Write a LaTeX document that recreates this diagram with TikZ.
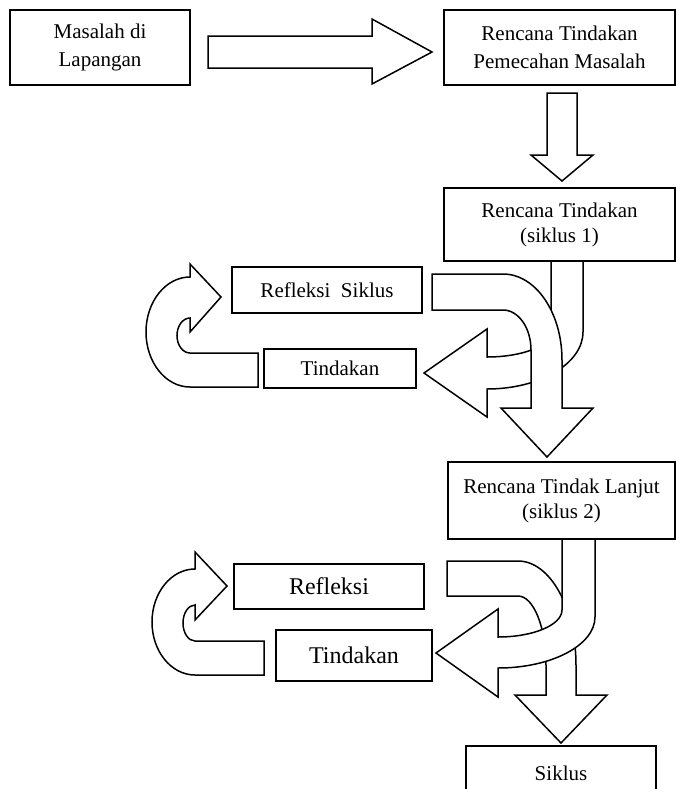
\documentclass[tikz,border=0pt]{standalone}
\usepackage{fontspec}
\setmainfont{Liberation Serif}

\begin{document}
\begin{tikzpicture}[x=0.5pt,y=-0.5pt]
  \tikzset{kotak/.style={draw,line width=0.9pt,align=center,inner sep=0pt,font=\fontsize{10.5}{12.5}\selectfont},
    renggang/.style={font=\fontsize{10.5}{14}\selectfont},
    besar/.style={font=\fontsize{12}{14}\selectfont},
    panah/.style={draw,fill=white,line width=0.75pt,line join=miter}}
  \useasboundingbox (0,0) rectangle (676,789);
  % kotak
  \node[kotak,renggang,minimum width=90pt,minimum height=37.5pt] (masalah) at (100,47.5) {Masalah di\\Lapangan};
  \node[kotak,renggang,minimum width=115.5pt,minimum height=37.5pt] (rencana) at (559.5,47.5) {Rencana Tindakan\\Pemecahan Masalah};
  \node[kotak,minimum width=115.5pt,minimum height=36.5pt] (siklusA) at (559.5,224.5) {Rencana Tindakan\\(siklus 1)};
  \node[kotak,minimum width=95pt,minimum height=23pt] (refleksiA) at (327,290) {Refleksi\ \ Siklus};
  \node[kotak,minimum width=76pt,minimum height=19.5pt] (tindakanA) at (340,368.5) {Tindakan};
  \node[kotak,minimum width=113.5pt,minimum height=38.5pt] (siklusB) at (561.5,500.5) {Rencana Tindak Lanjut\\(siklus 2)};
  \node[kotak,besar,minimum width=95pt,minimum height=22.5pt] (refleksiB) at (329,586.5) {Refleksi};
  \node[kotak,besar,minimum width=78pt,minimum height=25.5pt] (tindakanB) at (354,655.5) {Tindakan};
  \node[kotak,minimum width=95pt,minimum height=27pt] (akhir) at (561,773) {Siklus};
  % panah lurus
  \draw[panah] (208,36) -- (372,36) -- (372,19) -- (432,52) -- (372,84) -- (372,68) -- (208,68) -- cycle;
  \draw[panah] (547,93) -- (577,93) -- (577,155) -- (593,155) -- (562,181) -- (531,155) -- (547,155) -- cycle;
  % siklus 1
  \draw[panah] (551,261) -- (551,332) arc[start angle=0,end angle=90,x radius=64,y radius=25]
    -- (487,329) -- (424,373) -- (487,417) -- (487,389)
    arc[start angle=90,end angle=0,x radius=96,y radius=57] -- (583,261) -- cycle;
  \draw[panah] (432,274) -- (503,274) arc[start angle=270,end angle=360,x radius=59,y radius=86]
    -- (562,408) -- (593,408) -- (547,457) -- (501,408) -- (531,408) -- (531,350)
    arc[start angle=0,end angle=-90,x radius=28,y radius=40] -- (432,310) -- cycle;
  \draw[panah] (258,353) -- (258,387) -- (190,387) arc[start angle=90,end angle=270,x radius=44,y radius=55]
    -- (190,264) -- (221,297) -- (190,332) -- (190,318)
    arc[start angle=270,end angle=90,x radius=13,y radius=17.5] -- cycle;
  % siklus 2
  \draw[panah] (447,561) -- (518,561) arc[start angle=270,end angle=360,x radius=58,y radius=104]
    -- (576,695) -- (607,695) -- (561,743) -- (515,695) -- (546,695) -- (546,665)
    arc[start angle=0,end angle=-90,x radius=28,y radius=69] -- (447,596) -- cycle;
  \draw[panah] (562,539) -- (562,610) arc[start angle=0,end angle=90,x radius=64,y radius=27]
    -- (498,609) -- (436,653) -- (498,697) -- (498,668)
    arc[start angle=90,end angle=0,x radius=97,y radius=51] -- (595,539) -- cycle;
  \draw[panah] (264,641) -- (264,675) -- (195,675) arc[start angle=90,end angle=270,x radius=43,y radius=53]
    -- (195,552) -- (227,586) -- (195,620) -- (195,605)
    arc[start angle=270,end angle=90,x radius=12,y radius=18] -- cycle;
\end{tikzpicture}
\end{document}
